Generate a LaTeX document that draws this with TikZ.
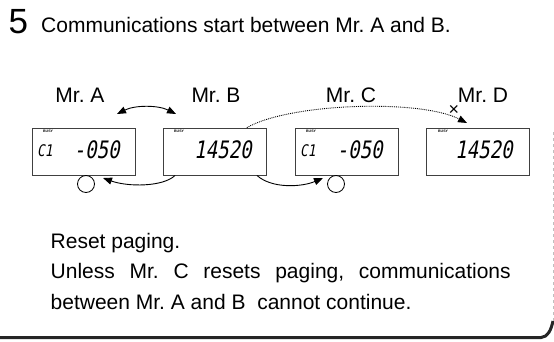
\documentclass[tikz,border=0pt]{standalone}
\usepackage{fontspec}
\setmainfont{Liberation Sans}
\newfontfamily\lcdfont{DejaVu Sans Mono}[FakeSlant=0.18,FakeStretch=0.8]
\usetikzlibrary{arrows.meta}
\frenchspacing

\begin{document}
\begin{tikzpicture}[x=1pt,y=-1pt,>={Triangle[length=9pt,width=7pt]},
  bodytext/.style={inner sep=0pt,font=\fontsize{21}{25}\selectfont},
  lcd/.style={draw=black!75,line width=0.8pt,minimum width=103pt,minimum height=47pt,inner sep=0pt},
  lcdnum/.style={inner sep=0pt,font=\lcdfont\fontsize{24}{24}\selectfont},
  lcdch/.style={inner sep=0pt,font=\lcdfont\fontsize{16}{16}\selectfont},
  lcdtag/.style={inner sep=0pt,font=\fontsize{3.5}{4}\selectfont\bfseries},
  okmark/.style={circle,draw,line width=0.8pt,minimum size=17pt,inner sep=0pt},
  link/.style={line width=0.9pt}]
\useasboundingbox (0,0) rectangle (554,341);

% heading
\node[anchor=base west,inner sep=0pt,font=\fontsize{35}{35}\selectfont] (stepno) at (8.5,33) {5};
\node[bodytext,anchor=base west] (title) at (41,32) {Communications start between Mr. A and B.};

% stations
\node[bodytext,anchor=base] (nameA) at (80,102) {Mr. A};
\node[bodytext,anchor=base] (nameB) at (216,102) {Mr. B};
\node[bodytext,anchor=base] (nameC) at (351,102) {Mr. C};
\node[bodytext,anchor=base] (nameD) at (483,102) {Mr. D};

\node[lcd] (dispA) at (83.5,151.5) {};
\node[lcd] (dispB) at (215,151.5) {};
\node[lcd] (dispC) at (346.5,151.5) {};
\node[lcd] (dispD) at (477.5,151.5) {};

\node[lcdtag,anchor=north west] (tagA) at (43,130) {BUSY};
\node[lcdtag,anchor=north west] (tagB) at (174,130) {BUSY};
\node[lcdtag,anchor=north west] (tagC) at (306,130) {BUSY};
\node[lcdtag,anchor=north west] (tagD) at (438,130) {BUSY};

\node[lcdch,anchor=base west] (chA) at (37,156) {C1};
\node[lcdch,anchor=base west] (chC) at (300,156) {C1};
\node[lcdnum,anchor=base east] (numA) at (120,158) {-050};
\node[lcdnum,anchor=base east] (numB) at (252,158) {14520};
\node[lcdnum,anchor=base east] (numC) at (383,158) {-050};
\node[lcdnum,anchor=base east] (numD) at (513,158) {14520};

\node[okmark] (okA) at (86,184) {};
\node[okmark] (okC) at (336,184) {};
\node[inner sep=0pt,font=\fontsize{18}{18}\selectfont] (nogo) at (454,110) {×};

% connectors
\coordinate (abL) at (117,114);
\coordinate (abR) at (176,114);
\coordinate (backA) at (103,178);
\coordinate (toC) at (323,178);
\coordinate (toD) at (467,123);
\draw[link,<->] (abL) .. controls (135,105) and (158,105) .. (abR);
\draw[link,->] ([xshift=12pt]dispB.south west) .. controls (163,187) and (128,187) .. (backA);
\draw[link,->] ([xshift=-10pt]dispB.south east) .. controls (272,189) and (302,187) .. (toC);
\draw[link,densely dotted,->] ([xshift=-20pt]dispB.north east) .. controls (290,103) and (420,99) .. (toD);

% notes
\node[bodytext,anchor=base west] (reset) at (50.5,248) {Reset paging.};
\node[bodytext,anchor=base west] (note1) at (50.5,278) {\makebox[460pt][s]{Unless Mr. C resets paging, communications}};
\node[bodytext,anchor=base west] (note2) at (50.5,309) {between Mr. A and B~ cannot continue.};

% frame
\draw[line width=3pt,black!85] (0,337.5) -- (541,337.5) .. controls (548,337) and (551,330) .. (553,321);
\draw[black!25,line width=0.5pt,dashed] (553,321) -- (553,130);
\end{tikzpicture}
\end{document}
